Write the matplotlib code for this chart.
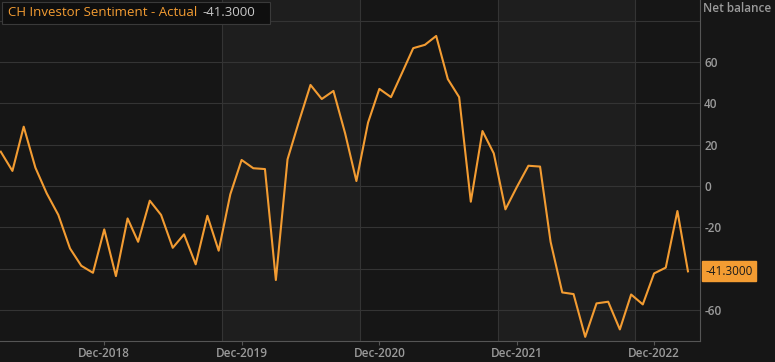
import pandas as pd
import matplotlib.pyplot as plt
from matplotlib.patches import Rectangle

# monthly net balance, Mar-2018 .. Mar-2023
dates = pd.date_range("2018-03-01", periods=61, freq="MS")
values = [
    16.6, 7.3, 28.7, 8.9, -3.5, -14.0, -30.2, -38.6, -42.0, -21.0,
    -43.6, -15.7, -27.0, -7.1, -14.0, -29.9, -23.4, -37.9, -14.4, -31.3,
    -4.0, 12.6, 8.6, 8.2, -45.5, 12.9, 31.0, 48.9, 42.1, 46.0,
    25.5, 2.4, 30.7, 47.0, 43.0, 55.4, 66.7, 68.3, 72.6, 51.7,
    43.0, -7.6, 26.6, 15.8, -11.3, -0.6, 9.8, 9.4, -27.0, -51.5,
    -52.3, -73.0, -56.8, -56.0, -69.4, -52.5, -57.3, -42.3, -39.5, -12.1,
    -41.3,
]
tick_dates = pd.to_datetime(["2018-12-01", "2019-12-01", "2020-12-01", "2021-12-01", "2022-12-01"])
tick_labels = ["Dec-2018", "Dec-2019", "Dec-2020", "Dec-2021", "Dec-2022"]
band_edges = pd.to_datetime(["2019-10-11", "2020-10-11", "2021-10-11", "2022-10-11"])
y_ticks = [-60, -40, -20, 0, 20, 40, 60]

title = "CH Investor Sentiment - Actual"
last_label = "-41.3000"

bg = "#161616"
band = "#1e1e1e"
grid = "#343434"
orange = "#f39c32"
txt = "#9a9a9a"

plt.rcParams["font.family"] = ["Open Sans", "DejaVu Sans"]

fig = plt.figure(figsize=(7.75, 3.62), dpi=100, facecolor=bg)
ax = fig.add_axes([0, 21 / 362, 700 / 775, 341 / 362])
ax.set_facecolor(bg)

# alternating shaded bands
ax.axvspan(band_edges[0], band_edges[1], color=band, zorder=0, lw=0)
ax.axvspan(band_edges[2], band_edges[3], color=band, zorder=0, lw=0)
for d in band_edges:
    ax.axvline(d, color=grid, lw=0.8, zorder=1)
for v in y_ticks + [80]:
    ax.axhline(v, color=grid, lw=0.8, zorder=1)

ax.plot(dates, values, color=orange, lw=1.5, zorder=3)

ax.set_xlim(pd.Timestamp("2018-02-27"), pd.Timestamp("2023-04-02"))
ax.set_ylim(-75, 90)

ax.set_xticks(tick_dates)
ax.set_xticklabels(tick_labels)
ax.yaxis.tick_right()
ax.set_yticks(y_ticks)
# -40 label sits under the last-value tag
ax.set_yticklabels(["" if v == -40 else str(v) for v in y_ticks])
ax.tick_params(axis="x", colors="#555555", labelcolor=txt, length=3, width=0.8,
               labelsize=8.5, pad=1.5)
ax.tick_params(axis="y", length=0, labelcolor=txt, labelsize=8.5, pad=3)
for lab in ax.get_xticklabels() + ax.get_yticklabels():
    lab.set_fontweight("semibold")

for side in ["top", "left"]:
    ax.spines[side].set_visible(False)
for side in ["right", "bottom"]:
    ax.spines[side].set_color("#555555")
    ax.spines[side].set_linewidth(0.8)

fig.text(703 / 775, 1 - 9 / 362, "Net balance", color=txt, fontsize=8.5,
         fontweight="semibold", va="center", ha="left")

# title box
fig.patches.append(Rectangle((2 / 775, 1 - 24 / 362), 268 / 775, 22 / 362,
                             transform=fig.transFigure, fc="#0f0f0f", ec="#3a3a3a",
                             lw=0.8, zorder=5))
t = fig.text(8 / 775, 1 - 13 / 362, title, color=orange, fontsize=9.5,
             va="center", ha="left", zorder=6)
fig.canvas.draw()
bb = t.get_window_extent()
fig.text((bb.x1 + 5) / 775, 1 - 13 / 362, last_label, color="#c8c8c8", fontsize=9.5,
         va="center", ha="left", zorder=6)

# last value tag
ax.annotate(last_label, xy=(1.0, values[-1]), xycoords=("axes fraction", "data"),
            xytext=(4, 0), textcoords="offset points", color="#1a1a1a",
            fontsize=8.5, va="center", ha="left",
            bbox=dict(boxstyle="square,pad=0.3", fc=orange, ec=orange))

fig.savefig("out.png", dpi=100, facecolor=bg)
